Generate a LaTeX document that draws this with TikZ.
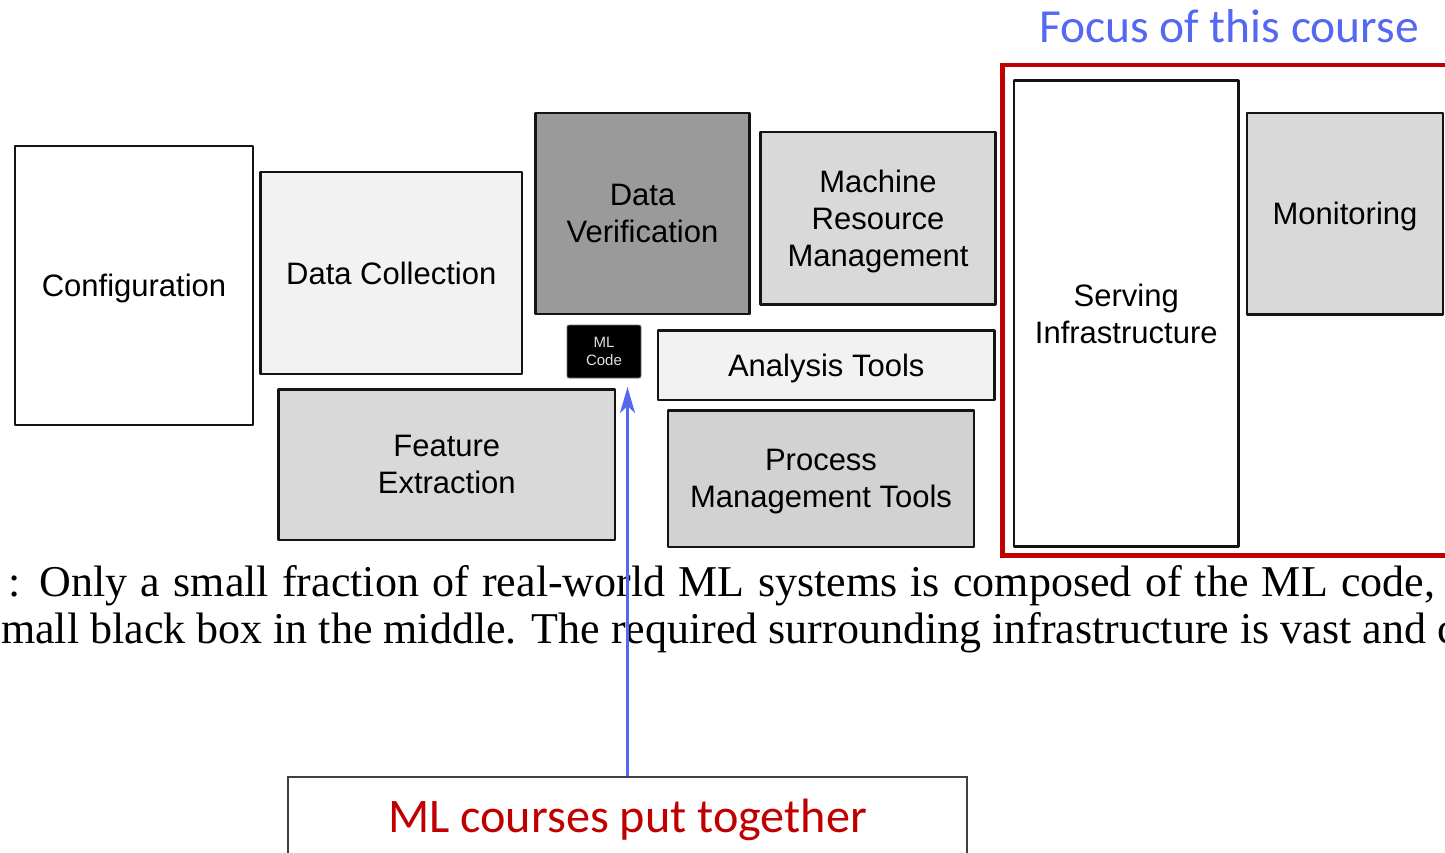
\documentclass[tikz,border=0pt]{standalone}
\usepackage{fontspec}
\setmainfont{Liberation Sans}
\newfontfamily\capfont{Liberation Serif}
\newfontfamily\calfont{Carlito}
\usetikzlibrary{arrows.meta}

\definecolor{framered}{HTML}{C00000}
\definecolor{noteblue}{HTML}{5468F2}
\definecolor{paleGray}{HTML}{F2F2F2}
\definecolor{lightGray}{HTML}{D9D9D9}
\definecolor{midGray}{HTML}{D2D2D2}
\definecolor{darkGray}{HTML}{9A9A9A}

\tikzset{
  block/.style={draw=black!92, line width=2.6pt, line join=round,
    inner sep=0pt, outer sep=0pt, align=center, text depth=0pt,
    font=\fontsize{31}{37}\selectfont},
  mlbox/.style={fill=black, draw=black!55, line width=0.8pt, rounded corners=2pt,
    inner sep=0pt, outer sep=0pt, align=center, text=white!88!black,
    font=\fontsize{15}{18}\selectfont},
  bluearrow/.style={draw=noteblue, line width=2.6pt,
    -{Stealth[length=26pt,width=15pt,inset=7pt]}},
  captionline/.style={anchor=base west, inner sep=0pt,
    font=\capfont\fontsize{44}{49}\selectfont},
  calibritext/.style={font=\calfont\fontsize{48.2}{58}\selectfont}
}

\begin{document}
\begin{tikzpicture}[x=1pt,y=-1pt]
\useasboundingbox (0,0) rectangle (1445,852);
\clip (0,0) rectangle (1445,852);
\fill[white] (0,0) rectangle (1445,852);

% the system components around the ML code
\node[block, fill=white, minimum width=238pt, minimum height=279pt] (conf) at (134,285.5) {Configuration};
\node[block, fill=paleGray, minimum width=261.5pt, minimum height=202pt] (dcol) at (391.25,273) {Data Collection};
\node[block, fill=darkGray, minimum width=214pt, minimum height=201pt] (dver) at (642.5,213.5) {Data\\Verification};
\node[block, fill=lightGray, minimum width=235pt, minimum height=172.5pt] (mrm) at (878,218.25) {Machine\\Resource\\Management};
\node[mlbox, minimum width=74pt, minimum height=53pt] (mlc) at (604,351.5) {ML\\Code};
\node[block, fill=paleGray, minimum width=336.5pt, minimum height=69.5pt] (ana) at (826.25,365.25) {Analysis Tools};
\node[block, fill=lightGray, minimum width=336.5pt, minimum height=150.5pt] (fex) at (446.75,464.75) {Feature\\Extraction};
\node[block, fill=midGray, minimum width=306pt, minimum height=136.5pt] (pmt) at (821,478.75) {Process\\Management Tools};
\node[block, fill=white, minimum width=224.5pt, minimum height=466pt] (serv) at (1126.25,313.5) {Serving\\Infrastructure};
\node[block, fill=lightGray, minimum width=196pt, minimum height=201.5pt] (mon) at (1345,213.75) {Monitoring};

% highlighted region
\draw[framered, line width=4.5pt] (1002.5,65) rectangle (1470,555.5);
\node[font=\calfont\fontsize{47.5}{56}\selectfont, text=noteblue, anchor=base, inner sep=0pt] (focus) at (1229,42) {Focus of this course};

% justified caption lines below the figure
\node[captionline] (cap1) at (8,596) {\makebox[1427pt][s]{: Only a small fraction of real-world ML systems is composed of the ML code,}};
\node[captionline] (cap2) at (1,643) {mall black box in the middle. The required surrounding infrastructure is vast and c};

% bottom note with arrow to the ML code
\node[calibritext, draw=black!75, line width=2pt, text=framered, inner sep=0pt,
      minimum width=679pt, minimum height=86pt] (courses) at (627.5,820) {ML courses put together};
\coordinate (tip) at (627.5,387);
\draw[bluearrow] (courses.north) -- (tip);
\end{tikzpicture}
\end{document}
